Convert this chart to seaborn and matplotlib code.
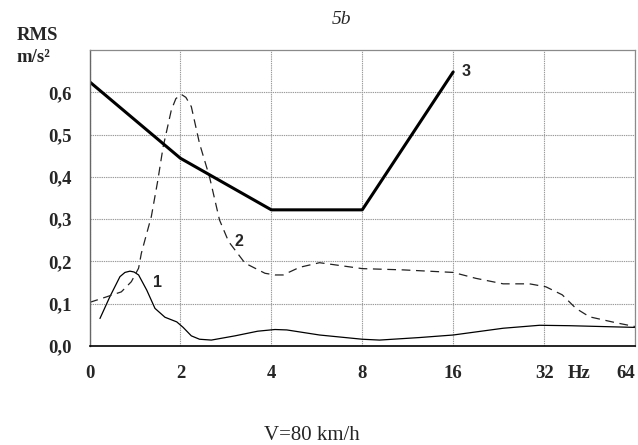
import matplotlib
matplotlib.use("Agg")
import matplotlib.pyplot as plt
import seaborn as sns
import pandas as pd

# ---- data (x = octave position index: 0->0 Hz label, 1->2, 2->4, 3->8, 4->16, 5->32, 6->64) ----
tick_labels_x = ["0", "2", "4", "8", "16", "32", "64"]
tick_pos_x = [0, 1, 2, 3, 4, 5, 6]
tick_vals_y = [0.0, 0.1, 0.2, 0.3, 0.4, 0.5, 0.6]
tick_labels_y = ["0,0", "0,1", "0,2", "0,3", "0,4", "0,5", "0,6"]

c1_x = [0.115, 0.225, 0.335, 0.39, 0.445, 0.49, 0.54, 0.63, 0.72, 0.83, 0.96, 1.03, 1.12,
        1.21, 1.34, 1.6, 1.85, 2.04, 2.17, 2.53, 3.0, 3.19, 3.63, 4.0, 4.55, 4.95, 5.28, 6.0]
c1_y = [0.065, 0.117, 0.164, 0.174, 0.177, 0.175, 0.168, 0.132, 0.089, 0.068, 0.057, 0.044, 0.024,
        0.016, 0.014, 0.024, 0.035, 0.039, 0.038, 0.026, 0.016, 0.014, 0.020, 0.026, 0.042, 0.049, 0.048, 0.044]

c2_x = [0.0, 0.17, 0.35, 0.46, 0.54, 0.57, 0.61, 0.68, 0.75, 0.81, 0.90, 0.95, 1.01, 1.06, 1.12,
        1.21, 1.32, 1.43, 1.53, 1.71, 1.93, 2.04, 2.13, 2.31, 2.53, 3.0, 3.45, 4.0, 4.25, 4.55,
        4.84, 5.02, 5.2, 5.35, 5.5, 5.79, 6.0]
c2_y = [0.103, 0.115, 0.128, 0.152, 0.184, 0.219, 0.251, 0.306, 0.390, 0.471, 0.558, 0.585, 0.595,
        0.588, 0.566, 0.479, 0.400, 0.298, 0.247, 0.196, 0.172, 0.168, 0.168, 0.186, 0.197, 0.183,
        0.180, 0.174, 0.160, 0.147, 0.147, 0.140, 0.121, 0.089, 0.069, 0.055, 0.046]

c3_x = [0, 1, 2, 3, 4]
c3_y = [0.625, 0.444, 0.322, 0.322, 0.648]

labels_curves = ["1", "2", "3"]
label_pos = [(0.75, 0.151), (1.64, 0.247), (4.14, 0.648)]

# ---- plotting ----
sns.set_style("white")
W, H = 638, 445
fig = plt.figure(figsize=(W / 100, H / 100), dpi=100)
ax = fig.add_axes([89.5 / W, 1 - 346 / H, (635 - 89.5) / W, (346 - 50) / H])

d1 = pd.DataFrame({"x": c1_x, "y": c1_y})
d2 = pd.DataFrame({"x": c2_x, "y": c2_y})
d3 = pd.DataFrame({"x": c3_x, "y": c3_y})

sns.lineplot(data=d1, x="x", y="y", ax=ax, color="black", linewidth=0.9,
             sort=False, estimator=None)
sns.lineplot(data=d2, x="x", y="y", ax=ax, color="#222222", linewidth=0.9,
             sort=False, estimator=None, dashes=False)
ax.lines[-1].set_dashes((7, 4.5))
sns.lineplot(data=d3, x="x", y="y", ax=ax, color="black", linewidth=2.2,
             sort=False, estimator=None)

ax.set_xlim(0, 6)
ax.set_ylim(0, 0.7)
ax.set_xlabel("")
ax.set_ylabel("")

serif = "Liberation Serif"
ax.set_xticks(tick_pos_x)
ax.set_xticklabels(tick_labels_x, fontfamily=serif, fontweight="bold", fontsize=13.5)
ax.get_xticklabels()[-1].set_horizontalalignment("right")
ax.set_yticks(tick_vals_y)
ax.set_yticklabels(tick_labels_y, fontfamily=serif, fontweight="bold", fontsize=13.5)
ax.tick_params(axis="x", length=4, pad=10, color="#555555", width=0.8)
ax.tick_params(axis="y", length=4, pad=9, color="#555555", width=0.8)

ax.grid(True, color="#9a9a9a", linewidth=0.8, linestyle=(0, (1.2, 0.8)))
ax.set_axisbelow(True)
for side in ["top", "right"]:
    ax.spines[side].set_color("#8a8a8a")
    ax.spines[side].set_linewidth(0.9)
ax.spines["left"].set_color("#666666")
ax.spines["left"].set_linewidth(1.0)
ax.spines["bottom"].set_color("black")
ax.spines["bottom"].set_linewidth(1.2)

for lab, (px, py) in zip(labels_curves, label_pos):
    ax.text(px, py, lab, fontfamily="Liberation Sans", fontweight="bold",
            fontsize=11.5, ha="center", va="center")

# Hz unit label at tick-label height
ax.text(5.38, -0.064, "Hz", transform=ax.transData, fontfamily=serif,
        fontweight="bold", fontsize=13.5, ha="center", va="center", clip_on=False)

fig.text(16.5 / W, 1 - 36 / H, "RMS", fontfamily=serif, fontweight="bold",
         fontsize=13.5, ha="left", va="center")
fig.text(16.5 / W, 1 - 57 / H, "m/s²", fontfamily=serif, fontweight="bold",
         fontsize=13.5, ha="left", va="center")
fig.text(341.7 / W, 1 - 20 / H, "5b", fontfamily=serif, fontstyle="italic",
         fontsize=14, ha="center", va="center")
fig.text(311.7 / W, 1 - 435 / H, "V=80 km/h", fontfamily=serif,
         fontsize=15, ha="center", va="center")

fig.savefig("out.png", dpi=100)
